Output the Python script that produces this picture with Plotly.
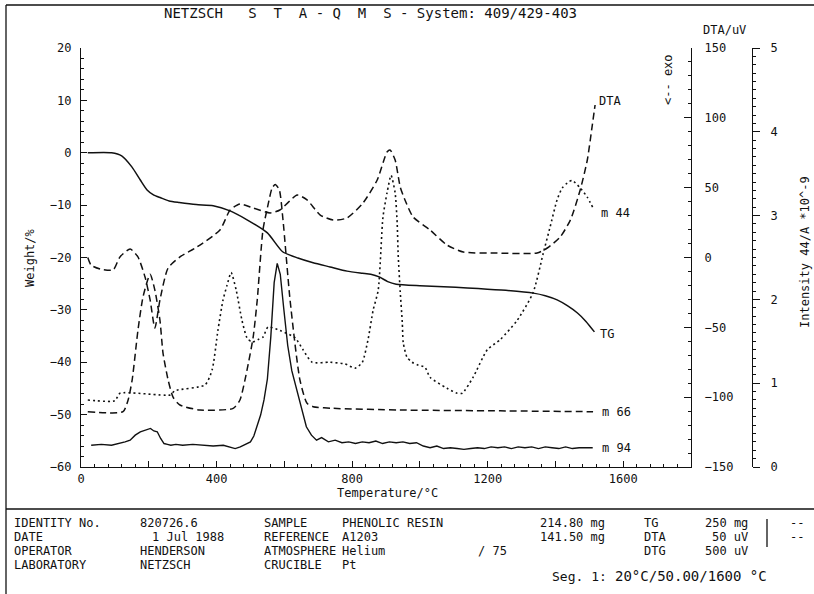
import plotly.graph_objects as go

W, H = 814, 594

# ---------------- data ----------------
tg_temp = [20, 90, 120, 150, 175, 195, 215, 235, 260, 290, 340, 390, 440, 490, 550, 595, 640, 685,
           735, 785, 830, 855, 880, 905, 930, 1000, 1070, 1140, 1240, 1335, 1370, 1405, 1435, 1465, 1490, 1515]
tg_weight = [0, 0, -0.6, -2.7, -5.2, -7.1, -8.1, -8.6, -9.2, -9.5, -9.9, -10.1, -11.1, -12.8, -15.3, -18.9, -20.1, -21.0,
             -21.8, -22.6, -23.0, -23.2, -23.7, -24.6, -25.1, -25.4, -25.6, -25.8, -26.2, -26.8, -27.3, -28.1, -29.2, -30.6, -32.2, -34.2]

dta_temp = [20, 30, 60, 95, 115, 145, 168, 189, 204, 218, 233, 257, 292, 342, 410, 440, 469, 508, 558, 587,
            638, 667, 706, 744, 785, 832, 874, 903, 912, 927, 942, 956, 980, 1030, 1080, 1128, 1228, 1346,
            1376, 1414, 1444, 1473, 1494, 1508, 1517]
dta_uv = [0, -5.5, -8.5, -8.9, 0.4, 6.1, 0.4, -14.0, -30.4, -50.5, -30.4, -7.5, 0.4, 7.5, 19.7, 34.0, 38.3, 35.4, 31.9, 34.0,
          44.7, 41.2, 30.4, 26.8, 28.3, 39.0, 55.5, 75.5, 77.0, 69.8, 50.5, 41.2, 29.0, 19.7, 8.9, 3.9, 3.2, 3.2,
          6.8, 14.7, 26.8, 48.3, 69.8, 93.4, 109.2]

m44_temp = [20, 100, 115, 263, 277, 366, 387, 404, 419, 431, 443, 458, 475, 490, 505, 522, 537, 552, 587, 632,
            655, 682, 735, 779, 809, 830, 847, 862, 877, 891, 903, 915, 927, 933, 936, 942, 948, 951, 962, 977,
            992, 1015, 1030, 1080, 1110, 1125, 1157, 1199, 1237, 1287, 1334, 1364, 1384, 1405, 1420, 1435, 1449,
            1473, 1494, 1511]
m44_int = [0.80, 0.79, 0.88, 0.86, 0.91, 0.98, 1.16, 1.63, 1.99, 2.17, 2.32, 2.11, 1.75, 1.54, 1.49, 1.52, 1.55, 1.67, 1.63, 1.54,
           1.40, 1.25, 1.25, 1.23, 1.18, 1.25, 1.52, 1.87, 2.11, 2.98, 3.27, 3.48, 3.27, 2.91, 2.53, 2.09, 1.73, 1.48, 1.31, 1.25,
           1.22, 1.19, 1.07, 0.94, 0.88, 0.88, 1.07, 1.40, 1.52, 1.75, 2.08, 2.55, 2.86, 3.19, 3.33, 3.39, 3.42,
           3.33, 3.22, 3.09]

m66_temp = [20, 124, 139, 151, 168, 183, 204, 218, 233, 242, 257, 272, 292, 351, 449, 469, 490, 508, 520, 537,
            552, 564, 573, 585, 596, 617, 646, 667, 685, 744, 942, 1237, 1511]
m66_int = [0.66, 0.66, 0.80, 1.04, 1.63, 2.03, 2.30, 2.11, 1.75, 1.36, 1.04, 0.83, 0.74, 0.68, 0.70, 0.80, 1.16, 1.55, 1.99, 2.83,
           3.13, 3.33, 3.37, 3.31, 2.95, 1.99, 1.04, 0.76, 0.72, 0.70, 0.68, 0.67, 0.66]

m94_temp = [30, 60, 90, 115, 130, 145, 160, 175, 190, 205, 215, 225, 235, 245, 255, 265, 280, 300, 330, 360, 390, 420,
            440, 455, 470, 485, 500, 510, 520, 530, 540, 550, 560, 570, 579, 588, 598, 610, 622, 635, 650, 665, 680,
            695, 710, 730, 750, 770, 790, 810, 830, 850, 870, 890, 910, 930, 950, 970, 990, 1010, 1030, 1050, 1070,
            1090, 1110, 1130, 1150, 1170, 1190, 1210, 1230, 1250, 1270, 1290, 1310, 1330, 1350, 1370, 1390, 1410,
            1430, 1450, 1470, 1490, 1510]
m94_int = [0.26, 0.27, 0.26, 0.28, 0.30, 0.32, 0.38, 0.42, 0.44, 0.46, 0.43, 0.42, 0.34, 0.28, 0.27, 0.26, 0.27, 0.26,
           0.27, 0.26, 0.25, 0.26, 0.24, 0.22, 0.24, 0.27, 0.30, 0.37, 0.50, 0.62, 0.80, 1.05, 1.55, 2.20, 2.43, 2.30,
           1.90, 1.45, 1.15, 0.95, 0.72, 0.48, 0.38, 0.32, 0.35, 0.30, 0.32, 0.29, 0.30, 0.28, 0.30, 0.29, 0.31, 0.28,
           0.30, 0.29, 0.30, 0.28, 0.29, 0.25, 0.23, 0.25, 0.22, 0.23, 0.22, 0.21, 0.22, 0.23, 0.22, 0.24, 0.23, 0.24,
           0.22, 0.24, 0.23, 0.24, 0.22, 0.24, 0.23, 0.22, 0.24, 0.22, 0.23, 0.23, 0.23]

temp_ticks = [0, 400, 800, 1200, 1600]
weight_ticks = [-60, -50, -40, -30, -20, -10, 0, 10, 20]
dta_ticks = [-150, -100, -50, 0, 50, 100, 150]
int_ticks = [0, 1, 2, 3, 4, 5]

FONT = "DejaVu Sans Mono"
BLACK = "#111111"
NB = "\u00a0"


def px(x):
    return x / W


def py(y):
    return 1 - y / H


fig = go.Figure()
fig.add_trace(go.Scatter(x=tg_temp, y=tg_weight, mode="lines", yaxis="y",
                         line=dict(color=BLACK, width=1.5, shape="spline", smoothing=0.6)))
fig.add_trace(go.Scatter(x=dta_temp, y=dta_uv, mode="lines", yaxis="y2",
                         line=dict(color=BLACK, width=1.5, dash="7px,4px", shape="spline", smoothing=0.6)))
fig.add_trace(go.Scatter(x=m44_temp, y=m44_int, mode="lines", yaxis="y3",
                         line=dict(color=BLACK, width=1.6, dash="2px,3px", shape="spline", smoothing=0.6)))
fig.add_trace(go.Scatter(x=m66_temp, y=m66_int, mode="lines", yaxis="y3",
                         line=dict(color=BLACK, width=1.5, dash="7px,4px", shape="spline", smoothing=0.6)))
fig.add_trace(go.Scatter(x=m94_temp, y=m94_int, mode="lines", yaxis="y3",
                         line=dict(color=BLACK, width=1.4)))

x_major = list(range(0, 1801, 200))
x_text = [str(v) if v in temp_ticks else "" for v in x_major]

ydom = [py(467), py(48)]

fig.update_layout(
    width=W, height=H, margin=dict(l=0, r=0, t=0, b=0, pad=0, autoexpand=False),
    paper_bgcolor="white", plot_bgcolor="white", showlegend=False,
    font=dict(family=FONT, size=12, color=BLACK),
    xaxis=dict(domain=[px(81), px(691)], range=[0, 1800], showline=True, linecolor=BLACK, linewidth=1.3,
               tickvals=x_major, ticktext=x_text, ticks="inside", ticklen=6, tickcolor=BLACK,
               minor=dict(ticks="inside", ticklen=3, dtick=40, tick0=0, tickcolor=BLACK),
               showgrid=False, zeroline=False, tickfont=dict(size=12), automargin=False),
    yaxis=dict(domain=ydom, range=[-60, 20], showline=True, linecolor=BLACK, linewidth=1.3,
               tickvals=weight_ticks, ticks="inside", ticklen=6, tickcolor=BLACK,
               minor=dict(ticks="inside", ticklen=3, dtick=2, tick0=0, tickcolor=BLACK),
               showgrid=False, zeroline=False, ticklabelstandoff=6, tickfont=dict(size=12), automargin=False),
    yaxis2=dict(overlaying="y", side="right", anchor="x", range=[-150, 150], showline=True,
                linecolor=BLACK, linewidth=1.3, tickvals=dta_ticks, ticks="inside", ticklen=7, tickcolor=BLACK,
                minor=dict(ticks="inside", ticklen=3, dtick=10, tick0=0, tickcolor=BLACK),
                showgrid=False, zeroline=False, ticklabelstandoff=10, tickfont=dict(size=12), automargin=False),
    yaxis3=dict(overlaying="y", side="right", anchor="free", position=px(752), range=[0, 5], showline=True,
                linecolor=BLACK, linewidth=1.3, tickvals=int_ticks, ticks="outside", ticklen=7, tickcolor=BLACK,
                minor=dict(ticks="outside", ticklen=3, dtick=0.1, tick0=0, tickcolor=BLACK),
                showgrid=False, zeroline=False, ticklabelstandoff=8, tickfont=dict(size=12), automargin=False),
)

ann = []


def txt(s, x, y, anchor="left", size=12, angle=0):
    ann.append(dict(text=s.replace("  ", NB + NB), x=px(x), y=py(y), xref="paper", yref="paper",
                    xanchor=anchor, yanchor="middle", showarrow=False, textangle=angle,
                    font=dict(family=FONT, size=size, color=BLACK)))


# titles
title = ("NETZSCH" + NB * 3 + "S" + NB * 2 + "T" + NB * 2 + "A" + NB + "-" + NB + "Q" + NB * 2 + "M"
         + NB * 2 + "S" + NB + "-" + NB + "System:" + NB + "409/429-403")
txt(title, 162, 13, "left", 14)
txt("DTA/uV", 724, 30, "center", 12)
txt("Weight/%", 30, 258, "center", 12, -90)
txt("Temperature/°C", 387, 493, "center", 12)
txt("&lt;-- exo", 668, 80, "center", 12, -90)
txt("Intensity 44/A *10^-9", 805, 252, "center", 12, -90)

# curve labels
txt("DTA", 597, 101)
txt("m 44", 599, 213)
txt("TG", 598, 334)
txt("m 66", 600, 412)
txt("m 94", 600, 448)

# info table
TS = 12
rows = [523, 537, 551, 565]
c1, c2, c3, c4 = 12, 138, 262, 340
txt("IDENTITY No.", c1, rows[0], size=TS); txt("820726.6", c2, rows[0], size=TS); txt("SAMPLE", c3, rows[0], size=TS)
txt("PHENOLIC RESIN", c4, rows[0], size=TS); txt("214.80 mg", 538, rows[0], size=TS)
txt("TG", 642, rows[0], size=TS); txt("250 mg", 750, rows[0], "right", TS)
txt("DATE", c1, rows[1], size=TS); txt("1 Jul 1988", 150, rows[1], size=TS); txt("REFERENCE", c3, rows[1], size=TS)
txt("A1203", c4, rows[1], size=TS); txt("141.50 mg", 538, rows[1], size=TS)
txt("DTA", 642, rows[1], size=TS); txt("50 uV", 750, rows[1], "right", TS)
txt("OPERATOR", c1, rows[2], size=TS); txt("HENDERSON", c2, rows[2], size=TS); txt("ATMOSPHERE", c3, rows[2], size=TS)
txt("Helium", c4, rows[2], size=TS); txt("/ 75", 476, rows[2], size=TS)
txt("DTG", 642, rows[2], size=TS); txt("500 uV", 750, rows[2], "right", TS)
txt("LABORATORY", c1, rows[3], size=TS); txt("NETZSCH", c2, rows[3], size=TS)
txt("CRUCIBLE", c3, rows[3], size=TS); txt("Pt", c4, rows[3], size=TS)
txt("Seg. 1:", 550, 576, size=13); txt("20°C/50.00/1600 °C", 613, 576, size=14)
txt("--", 788, rows[0], size=TS); txt("--", 788, rows[1], size=TS)

shapes = []


def line(x0, y0, x1, y1, w=1.3):
    shapes.append(dict(type="line", xref="paper", yref="paper", x0=px(x0), y0=py(y0), x1=px(x1), y1=py(y1),
                       line=dict(color=BLACK, width=w)))


line(6, 5, 814, 5)
line(6, 5, 6, 594)
line(6, 509, 814, 509)
line(767, 519, 767, 547)

fig.update_layout(annotations=ann, shapes=shapes)
fig.write_html("out.html", config={"displayModeBar": False},
               post_script="document.body.style.margin='0';document.body.style.overflow='hidden';")
